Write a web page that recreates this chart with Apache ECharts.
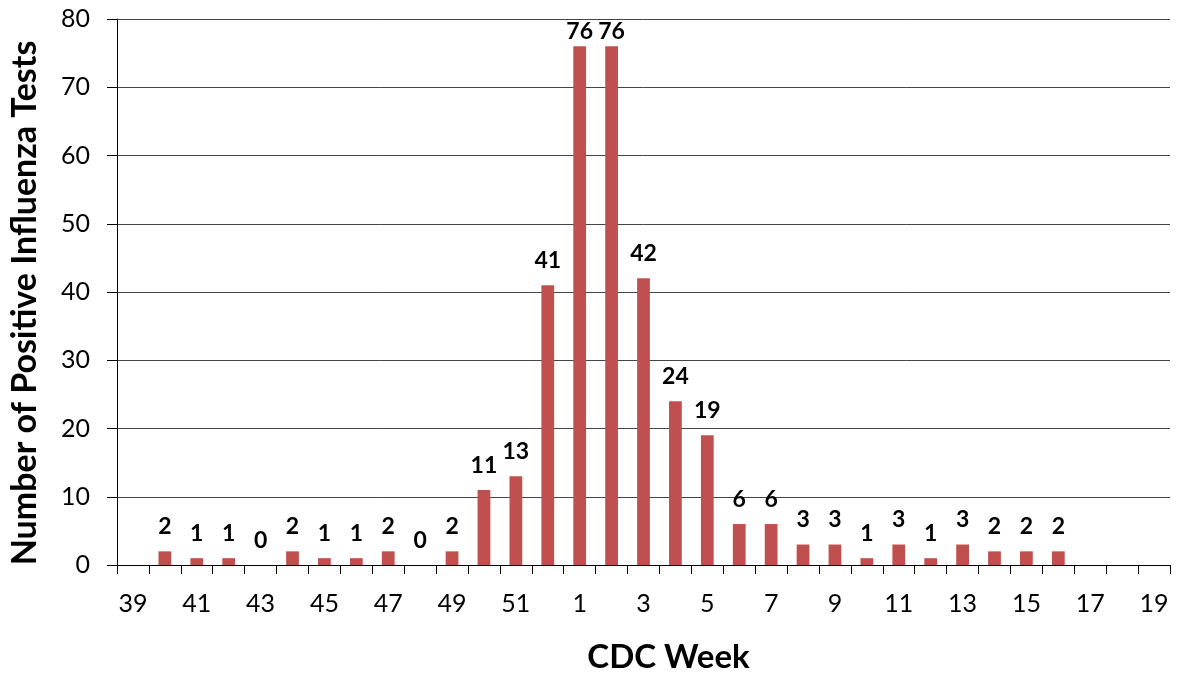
<!DOCTYPE html>
<html lang="en">
	<head>
		<meta charset="UTF-8">
		<title>CDC Week</title>
		<style>
			html, body { margin: 0; padding: 0; background: #fff; }
			#chart { width: 1177px; height: 679px; }
		</style>
	</head>
	<body>
		<div id="chart"></div>
		<script src="https://cdn.jsdelivr.net/npm/echarts@6/dist/echarts.min.js"></script>
		<script>
			// weeks 39..52 then 1..19
			var weeks = ['39', '40', '41', '42', '43', '44', '45', '46', '47', '48', '49', '50', '51', '52',
				'1', '2', '3', '4', '5', '6', '7', '8', '9', '10', '11', '12', '13', '14', '15', '16', '17', '18', '19'];
			var positives = [null, 2, 1, 1, 0, 2, 1, 1, 2, 0, 2, 11, 13, 41,
				76, 76, 42, 24, 19, 6, 6, 3, 3, 1, 3, 1, 3, 2, 2, 2, null, null, null];
			var yTicks = [0, 10, 20, 30, 40, 50, 60, 70, 80];

			var font = 'Lato, "Open Sans", sans-serif';
			var chart = echarts.init(document.getElementById('chart'));

			// labels near the top of the plot sit closer to the bar
			var barData = positives.map(function (v) {
				if (v !== null && v >= 70) {
					return { value: v, label: { distance: 3 } };
				}
				return v;
			});

			var option = {
				animation: false,
				textStyle: { fontFamily: font },
				grid: { left: 117, right: 7, top: 19, bottom: 112, containLabel: false },
				graphic: [{
					type: 'text',
					x: 25,
					y: 303,
					rotation: Math.PI / 2,
					style: {
						text: 'Number of Positive Influenza Tests',
						fontSize: 34,
						fontWeight: 'bold',
						fontFamily: font,
						fill: '#000',
						align: 'center',
						verticalAlign: 'middle'
					}
				}],
				xAxis: {
					type: 'category',
					data: weeks,
					name: 'CDC Week',
					nameLocation: 'middle',
					nameGap: 76,
					nameTextStyle: { fontSize: 33, fontWeight: 'bold', color: '#000', fontFamily: font, padding: [0, 0, 0, 50] },
					axisLine: { lineStyle: { color: '#000', width: 1 } },
					axisTick: { show: true, alignWithLabel: false, interval: 0, length: 9, lineStyle: { color: '#000' } },
					axisLabel: { interval: 1, fontSize: 25, color: '#000', margin: 26, fontFamily: font },
					splitLine: { show: false }
				},
				yAxis: {
					type: 'value',
					min: yTicks[0],
					max: yTicks[yTicks.length - 1],
					interval: 10,
					axisLine: { show: true, lineStyle: { color: '#000', width: 1 } },
					axisTick: { show: true, length: 10, lineStyle: { color: '#000' } },
					axisLabel: { fontSize: 25, color: '#000', margin: 27, fontFamily: font },
					splitLine: { lineStyle: { color: '#444', width: 1 } }
				},
				series: [{
					type: 'bar',
					data: barData,
					barWidth: '40%',
					itemStyle: { color: '#C0504D' },
					label: {
						show: true,
						position: 'top',
						distance: 13,
						fontSize: 23,
						fontWeight: 'bold',
						color: '#000',
						fontFamily: font
					}
				}]
			};
			chart.setOption(option);
		</script>
	</body>
</html>
